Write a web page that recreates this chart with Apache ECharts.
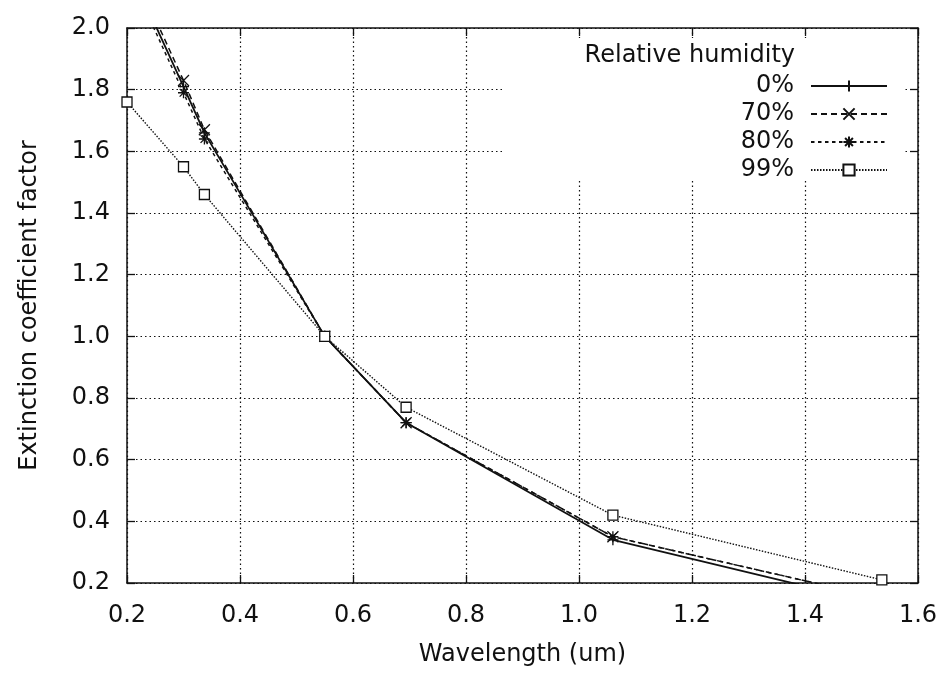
<!DOCTYPE html>
<html>
<head>
<meta charset="utf-8">
<title>Extinction coefficient factor vs wavelength</title>
<script src="https://cdn.jsdelivr.net/npm/echarts@6/dist/echarts.min.js"></script>
<style>
  html, body { margin: 0; padding: 0; background: #fff; }
  #chart { width: 941px; height: 673px; }
</style>
</head>
<body>
<div id="chart"></div>
<script>
// Wavelengths (um) at which the extinction factor is tabulated
const wavelengths = [0.2, 0.3, 0.337, 0.55, 0.694, 1.06, 1.536];

// Extinction coefficient factor (normalised to 1 at 0.55 um) per relative humidity
const rh0  = [2.21, 1.81, 1.66, 1.0, 0.72, 0.34, 0.13];
const rh70 = [2.23, 1.83, 1.67, 1.0, 0.72, 0.35, 0.15];
const rh80 = [2.19, 1.79, 1.64, 1.0, 0.72, 0.35, 0.15];
const rh99 = [1.76, 1.55, 1.46, 1.0, 0.77, 0.42, 0.21];

const seriesNames = ['0%', '70%', '80%', '99%'];
const legendTitle = 'Relative humidity';

const xTicks = { min: 0.2, max: 1.6, step: 0.2 };
const yTicks = { min: 0.2, max: 2.0, step: 0.2 };

const FONT = 'DejaVu Sans';
const INK = '#111';

// Marker shapes drawn as stroked paths
const plusPath = 'path://M5 0L5 10M0 5L10 5';
const crossPath = 'path://M0 0L10 10M10 0L0 10';
const starPath = 'path://M5 0L5 10M0 5L10 5M1.5 1.5L8.5 8.5M8.5 1.5L1.5 8.5';

function pairs(values) {
  return wavelengths.map((w, i) => [w, values[i]]);
}

function lineSeries(name, values, symbol, dash, width, fill) {
  return {
    name: name,
    type: 'line',
    data: pairs(values),
    xAxisIndex: 0,
    yAxisIndex: 0,
    clip: true,
    symbol: symbol,
    symbolSize: symbol === 'rect' ? 10 : 11,
    showAllSymbol: true,
    lineStyle: { color: INK, width: width, type: dash },
    itemStyle: { color: fill, borderColor: INK, borderWidth: 1.3 },
    emphasis: { disabled: true },
    animation: false,
    z: 3
  };
}

const fmt1 = v => v.toFixed(1);

const chart = echarts.init(document.getElementById('chart'), null, { renderer: 'canvas' });

chart.setOption({
  backgroundColor: '#fff',
  animation: false,
  textStyle: { fontFamily: FONT, color: INK },
  grid: { left: 127, right: 23, top: 28, bottom: 90, containLabel: false },
  title: {
    text: legendTitle,
    right: 146,
    top: 42,
    padding: 0,
    textStyle: { fontFamily: FONT, fontSize: 24, fontWeight: 'normal', color: INK, lineHeight: 28 },
    z: 6
  },
  legend: {
    data: seriesNames,
    orient: 'vertical',
    right: 53,
    top: 74,
    align: 'right',
    padding: 0,
    itemGap: 4,
    itemWidth: 76,
    itemHeight: 14,
    selectedMode: false,
    textStyle: { fontFamily: FONT, fontSize: 24, color: INK, lineHeight: 24, padding: [0, 12, 0, 0] },
    z: 6
  },
  graphic: [{
    // blank backdrop behind the key so the grid does not run through it
    type: 'rect',
    z: 1,
    shape: { x: 505, y: 38, width: 398, height: 140 },
    style: { fill: '#fff' }
  }],
  xAxis: [{
    type: 'value',
    min: xTicks.min,
    max: xTicks.max,
    interval: xTicks.step,
    name: 'Wavelength (um)',
    nameLocation: 'middle',
    nameGap: 60,
    nameTextStyle: { fontFamily: FONT, fontSize: 24, color: INK },
    axisLine: { show: true, onZero: false, lineStyle: { color: INK, width: 1.5 } },
    axisTick: { show: true, inside: true, length: 8, lineStyle: { color: INK, width: 1.3 } },
    axisLabel: { formatter: fmt1, fontFamily: FONT, fontSize: 24, color: INK, margin: 21 },
    splitLine: { show: true, lineStyle: { color: INK, width: 1.2, type: [1.5, 3] } }
  }, {
    type: 'value',
    position: 'top',
    min: xTicks.min,
    max: xTicks.max,
    interval: xTicks.step,
    axisLine: { show: true, onZero: false, lineStyle: { color: INK, width: 1.5 } },
    axisTick: { show: true, inside: true, length: 8, lineStyle: { color: INK, width: 1.3 } },
    axisLabel: { show: false },
    splitLine: { show: false }
  }],
  yAxis: [{
    type: 'value',
    min: yTicks.min,
    max: yTicks.max,
    interval: yTicks.step,
    name: 'Extinction coefficient factor',
    nameLocation: 'middle',
    nameGap: 85,
    nameTextStyle: { fontFamily: FONT, fontSize: 24, color: INK },
    axisLine: { show: true, onZero: false, lineStyle: { color: INK, width: 1.5 } },
    axisTick: { show: true, inside: true, length: 8, lineStyle: { color: INK, width: 1.3 } },
    axisLabel: { formatter: fmt1, fontFamily: FONT, fontSize: 24, color: INK, margin: 17 },
    splitLine: { show: true, lineStyle: { color: INK, width: 1.2, type: [1.5, 3] } }
  }, {
    type: 'value',
    position: 'right',
    min: yTicks.min,
    max: yTicks.max,
    interval: yTicks.step,
    axisLine: { show: true, onZero: false, lineStyle: { color: INK, width: 1.5 } },
    axisTick: { show: true, inside: true, length: 8, lineStyle: { color: INK, width: 1.3 } },
    axisLabel: { show: false },
    splitLine: { show: false }
  }],
  series: [
    lineSeries(seriesNames[0], rh0, plusPath, 'solid', 1.8, INK),
    lineSeries(seriesNames[1], rh70, crossPath, [6, 4], 1.5, INK),
    lineSeries(seriesNames[2], rh80, starPath, [3.5, 3.5], 1.5, INK),
    lineSeries(seriesNames[3], rh99, 'rect', [1.5, 1.5], 1.4, '#fff')
  ]
});
</script>
</body>
</html>
